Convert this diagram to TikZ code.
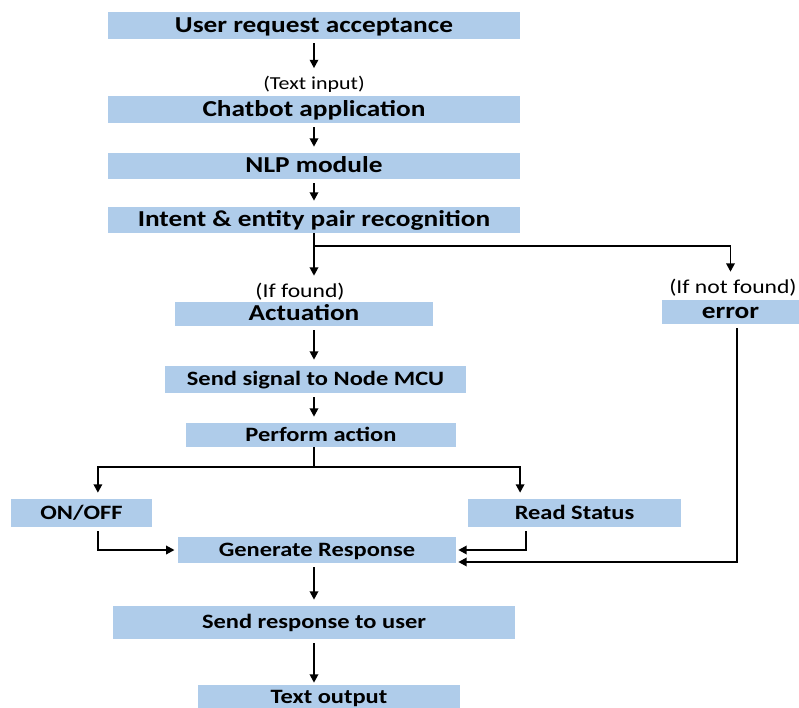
\documentclass[tikz,border=0pt]{standalone}
\usepackage{fontspec}
\setmainfont{Carlito}[FakeStretch=1.2]
\usepackage{tikz}
\usetikzlibrary{arrows.meta,positioning}
\definecolor{boxblue}{RGB}{175,204,234}

\begin{document}
\begin{tikzpicture}[
  x=0.25mm, y=-0.25mm,
  box/.style={fill=boxblue, inner sep=0pt, text height=10.6pt, text depth=1pt, font=\bfseries\fontsize{16.2}{18}\selectfont},
  smallbox/.style={box, text height=9.8pt, text depth=1pt, font=\bfseries\fontsize{14.5}{16}\selectfont},
  lbl/.style={inner sep=1pt, font=\fontsize{14}{16}\selectfont},
  arr/.style={line width=1.4pt, -{Triangle[length=2.1mm,width=2.1mm]}, shorten <=1mm, shorten >=1.5mm},
  ln/.style={line width=1.4pt}
]
  \clip (0,0) rectangle (799,708);

  % main column
  \node[box, minimum width=103mm, minimum height=6.75mm] (req) at (314,25.5) {User request acceptance};
  \node[lbl, font=\fontsize{13}{15}\selectfont] (lblText) at (314,84) {(Text input)};
  \node[box, minimum width=103mm, minimum height=6.75mm] (chat) at (314,109.5) {Chatbot application};
  \node[box, minimum width=103mm, minimum height=6.5mm] (nlp) at (314,166) {NLP module};
  \node[box, minimum width=103mm, minimum height=6.5mm] (intent) at (314,220) {Intent \& entity pair recognition};
  \coordinate (spine) at (314,0);
  \coordinate (split1) at (314,246);

  % found / not found
  \node[lbl] (lblFound) at (300,292) {(If found)};
  \node[box, minimum width=64.5mm, minimum height=6mm] (act) at (304,314) {Actuation};
  \node[lbl] (lblNot) at (733,288) {(If not found)};
  \node[box, minimum width=34.25mm, minimum height=6mm] (err) at (730.5,312) {error};

  \node[smallbox, minimum width=75.25mm, minimum height=6.75mm] (sig) at (315.5,379.5) {Send signal to Node MCU};
  \node[smallbox, minimum width=67.5mm, minimum height=6mm] (perf) at (321,435) {Perform action};
  \coordinate (split2) at (314,467);

  \node[smallbox, minimum width=35.25mm, minimum height=7mm] (onoff) at (81.5,513) {ON/OFF};
  \node[smallbox, minimum width=53.25mm, minimum height=7mm] (read) at (574.5,513) {Read Status};
  \node[smallbox, minimum width=69.5mm, minimum height=6.5mm] (gen) at (317,550) {Generate Response};
  \node[smallbox, minimum width=100.5mm, minimum height=8.25mm] (send) at (314,622.5) {Send response to user};
  \node[smallbox, minimum width=65.5mm, minimum height=6mm] (out) at (329,697) {Text output};

  \draw[arr] (req.south -| spine) -- (lblText.north -| spine);
  \draw[arr] (chat.south -| spine) -- (nlp.north -| spine);
  \draw[arr] (nlp.south -| spine) -- (intent.north -| spine);
  \draw[arr] (intent.south -| spine) -- (lblFound.north -| spine);
  \draw[ln] (intent.south -| spine) -- (split1);
  \draw[arr, shorten <=0pt] (split1) -| (lblNot.north -| err.center);
  \draw[arr] (act.south -| spine) -- (sig.north -| spine);
  \draw[arr] (sig.south -| spine) -- (perf.north -| spine);
  \draw[ln] (perf.south -| spine) -- (split2);
  \draw[arr, shorten <=0pt] (split2) -| ([xshift=4.1mm]onoff.north);
  \draw[arr, shorten <=0pt] (split2) -| ([xshift=-13.6mm]read.north);
  \draw[arr, shorten >=0.8mm] ([xshift=4.1mm]onoff.south) |- (gen.west);
  \draw[arr, shorten >=0.5mm] ([xshift=-12.1mm]read.south) |- (gen.east);
  \draw[arr, shorten >=0.5mm] ([xshift=1.6mm]err.south) |- ([yshift=-3mm]gen.east);
  \draw[arr] (gen.south -| spine) -- (send.north -| spine);
  \draw[arr, shorten >=0.5mm] (send.south -| spine) -- (out.north -| spine);
\end{tikzpicture}
\end{document}
